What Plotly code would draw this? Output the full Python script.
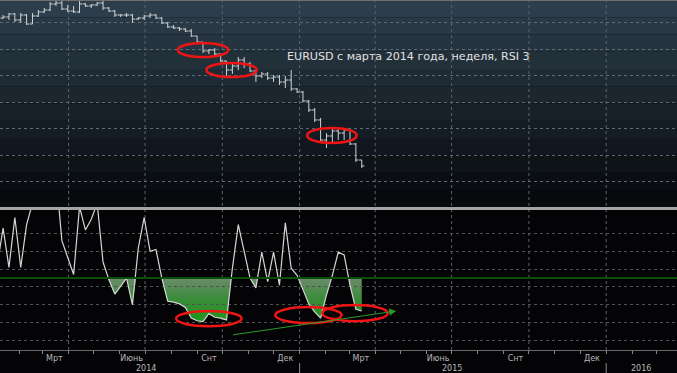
import plotly.graph_objects as go
import pandas as pd

# ---------------- data (weekly EURUSD bars + RSI 3) ----------------
weeks = pd.date_range("2014-01-06", periods=63, freq="7D")

open_ = [1.3566, 1.3585, 1.3604, 1.3661, 1.3548, 1.3642, 1.3472, 1.3623, 1.3699, 1.3736,
         1.3850, 1.3868, 1.3755, 1.3717, 1.3699, 1.3850, 1.3812, 1.3831, 1.3868, 1.3774,
         1.3717, 1.3642, 1.3642, 1.3642, 1.3566, 1.3585, 1.3623, 1.3642, 1.3585, 1.3491,
         1.3416, 1.3397, 1.3378, 1.3340, 1.3246, 1.3132, 1.2963, 1.2981, 1.2906, 1.2774,
         1.2604, 1.2680, 1.2793, 1.2717, 1.2585, 1.2491, 1.2529, 1.2453, 1.2472, 1.2378,
         1.2415, 1.2246, 1.2189, 1.2019, 1.1849, 1.1661, 1.1283, 1.1359, 1.1453, 1.1415,
         1.1472, 1.1208, 1.0906]
high = [1.3623, 1.3642, 1.3680, 1.3680, 1.3680, 1.3661, 1.3680, 1.3736, 1.3774, 1.3887,
        1.3963, 1.3906, 1.3831, 1.3812, 1.3925, 1.3868, 1.3850, 1.3887, 1.3982, 1.3793,
        1.3736, 1.3661, 1.3680, 1.3661, 1.3604, 1.3642, 1.3680, 1.3661, 1.3604, 1.3510,
        1.3453, 1.3416, 1.3397, 1.3378, 1.3246, 1.3132, 1.3000, 1.3019, 1.2906, 1.2774,
        1.2736, 1.2849, 1.2849, 1.2755, 1.2604, 1.2566, 1.2566, 1.2510, 1.2510, 1.2491,
        1.2604, 1.2264, 1.2208, 1.2038, 1.1887, 1.1698, 1.1415, 1.1510, 1.1491, 1.1510,
        1.1491, 1.1227, 1.0906]
low = [1.3548, 1.3566, 1.3548, 1.3510, 1.3491, 1.3453, 1.3472, 1.3604, 1.3680, 1.3717,
       1.3812, 1.3736, 1.3699, 1.3680, 1.3680, 1.3793, 1.3774, 1.3812, 1.3736, 1.3699,
       1.3604, 1.3604, 1.3604, 1.3491, 1.3548, 1.3548, 1.3585, 1.3566, 1.3472, 1.3397,
       1.3378, 1.3340, 1.3321, 1.3227, 1.3114, 1.2925, 1.2906, 1.2887, 1.2755, 1.2491,
       1.2529, 1.2604, 1.2642, 1.2566, 1.2378, 1.2453, 1.2415, 1.2378, 1.2321, 1.2264,
       1.2208, 1.2170, 1.2000, 1.1812, 1.1623, 1.1227, 1.1132, 1.1245, 1.1283, 1.1283,
       1.1189, 1.0868, 1.0755]
close = [1.3585, 1.3604, 1.3661, 1.3548, 1.3642, 1.3472, 1.3623, 1.3699, 1.3736, 1.3850,
         1.3868, 1.3755, 1.3717, 1.3699, 1.3850, 1.3812, 1.3831, 1.3868, 1.3774, 1.3717,
         1.3642, 1.3642, 1.3642, 1.3566, 1.3585, 1.3623, 1.3642, 1.3585, 1.3491, 1.3416,
         1.3397, 1.3378, 1.3340, 1.3246, 1.3132, 1.2963, 1.2981, 1.2906, 1.2774, 1.2604,
         1.2680, 1.2793, 1.2717, 1.2585, 1.2491, 1.2529, 1.2453, 1.2472, 1.2378, 1.2415,
         1.2246, 1.2189, 1.2019, 1.1849, 1.1661, 1.1283, 1.1359, 1.1453, 1.1415, 1.1472,
         1.1208, 1.0906, 1.0793]
rsi3 = [37, 58, 36, 64, 36, 60, 72, 80, 85, 82,
        88, 51, 41, 32, 70, 57, 63, 72, 39, 29,
        21, 25.5, 30, 15, 47, 64, 45, 46, 30, 17,
        16.5, 15.5, 13.5, 7.5, 6, 5.5, 10, 8, 7.5, 6.5,
        35.5, 60, 44, 30, 24.5, 44.5, 28, 44.5, 26, 61,
        35.5, 31.5, 23.5, 15.5, 11, 7.5, 20.5, 31.5, 44.5, 43,
        26, 12.5, 11.5]
rsi_level = 30

price_grid = [1.05, 1.10, 1.15, 1.20, 1.25, 1.30, 1.35]
rsi_grid = [-5, 5, 15, 25, 35, 45, 55]
month_ticks = ["2014-03-15", "2014-06-15", "2014-09-15", "2014-12-15",
               "2015-03-15", "2015-06-15", "2015-09-15", "2015-12-15", "2016-03-15"]
month_labels = ["Мрт", "Июнь", "Снт", "Дек", "Мрт", "Июнь", "Снт", "Дек", "Мрт"]
year_labels = ["2014", "2015", "2016"]
year_label_pos = ["2014-07-02", "2015-07-02", "2016-02-12"]
year_breaks = ["2015-01-01", "2016-01-01"]
quarter_grid = ["2014-04-01", "2014-07-01", "2014-10-01", "2015-01-01", "2015-04-01",
                "2015-07-01", "2015-10-01", "2016-01-01"]
title_text = "EURUSD с марта 2014 года, неделя, RSI 3"

# ---------------- layout geometry ----------------
W, H = 677, 373
MB = 23
PH = H - MB                      # plot-area height (px)
X_RANGE = ["2014-01-09 08:00", "2016-03-25 07:00"]
PRICE_RANGE = [1.0019, 1.3925]
RSI_RANGE = [-10.4, 68.2]
top_dom = [(PH - 207) / PH, 1.0]
bot_dom = [0.0, 140 / PH]
fill_top = bot_dom[1] * (rsi_level - RSI_RANGE[0]) / (RSI_RANGE[1] - RSI_RANGE[0])

fig = go.Figure()

fig.add_trace(go.Ohlc(
    x=weeks, open=open_, high=high, low=low, close=close,
    xaxis="x", yaxis="y", tickwidth=0.45,
    increasing=dict(line=dict(color="#cfd2d4", width=1)),
    decreasing=dict(line=dict(color="#cfd2d4", width=1)),
    hoverinfo="skip", showlegend=False))

# fill area (clipped to the part of the RSI panel below the level)
fig.add_trace(go.Scatter(
    x=weeks, y=[rsi_level] * len(weeks), xaxis="x", yaxis="y2", mode="lines",
    line=dict(width=0, color="rgba(0,0,0,0)"), hoverinfo="skip", showlegend=False))
fig.add_trace(go.Scatter(
    x=weeks, y=rsi3, xaxis="x", yaxis="y2", mode="lines", fill="tonexty",
    line=dict(width=0, color="rgba(0,0,0,0)"),
    fillgradient=dict(type="vertical", start=5, stop=rsi_level,
                      colorscale=[[0, "rgb(28,150,28)"], [0.55, "rgb(60,140,60)"],
                                  [1, "rgb(108,140,108)"]]),
    hoverinfo="skip", showlegend=False))

fig.add_trace(go.Scatter(
    x=weeks, y=rsi3, xaxis="x", yaxis="y3", mode="lines",
    line=dict(color="#d6d6d6", width=1.2), hoverinfo="skip", showlegend=False))

shapes = []
# gradient-like background bands for the price panel
NB = 12
c_top, c_bot = (44, 62, 75), (7, 9, 13)
for k in range(NB):
    t = k / (NB - 1)
    c = tuple(int(round(c_top[j] + (c_bot[j] - c_top[j]) * t)) for j in range(3))
    y1 = top_dom[1] - (top_dom[1] - top_dom[0]) * k / NB
    y0 = top_dom[1] - (top_dom[1] - top_dom[0]) * (k + 1) / NB
    shapes.append(dict(type="rect", xref="paper", yref="paper", x0=0, x1=1, y0=y0, y1=y1,
                       fillcolor="rgb(%d,%d,%d)" % c, line=dict(width=0), layer="below"))
for q in quarter_grid:
    shapes.append(dict(type="line", xref="x", yref="paper", x0=q, x1=q, y0=0, y1=1,
                       line=dict(color="#5a646c", width=1, dash="dot"), layer="below"))
# separator between panels and top border
sep_y = (PH - 208.5) / PH
shapes.append(dict(type="line", xref="paper", yref="paper", x0=0, x1=1, y0=sep_y, y1=sep_y,
                   line=dict(color="#a4a4a4", width=3), layer="above"))
shapes.append(dict(type="line", xref="paper", yref="paper", x0=0, x1=1, y0=1, y1=1,
                   line=dict(color="#707070", width=2), layer="above"))
# RSI level line
shapes.append(dict(type="line", xref="paper", yref="y3", x0=0, x1=1, y0=rsi_level, y1=rsi_level,
                   line=dict(color="#0a4f0a", width=2), layer="above"))
# year separators in the label area
for yb in year_breaks:
    shapes.append(dict(type="line", xref="x", yref="paper", x0=yb, x1=yb,
                       y0=-13 / PH, y1=-23 / PH, line=dict(color="#8a8a8a", width=1)))
# red ellipses (hand-drawn annotations)
red = dict(color="#f01414", width=2.5)
ellipses = [
    ("y", "2014-08-09", "2014-10-08", 1.2849, 1.3114),
    ("y", "2014-09-12", "2014-11-11", 1.2472, 1.2736),
    ("y", "2015-01-10", "2015-03-10", 1.1227, 1.1510),
    ("y3", "2014-08-07", "2014-10-24", 3.0, 11.5),
    ("y3", "2014-12-03", "2015-02-20", 4.7, 13.7),
    ("y3", "2015-01-28", "2015-04-16", 5.8, 14.8),
]
for yr, xa, xb, ya, yb in ellipses:
    shapes.append(dict(type="circle", xref="x", yref=yr, x0=xa, x1=xb, y0=ya, y1=yb,
                       line=red, layer="above"))

annotations = [
    dict(text=title_text, xref="paper", yref="paper", x=285 / W, y=(PH - 56) / PH,
         xanchor="left", yanchor="middle", showarrow=False,
         font=dict(family="DejaVu Sans", size=11.1, color="#e2e2e2")),
    dict(text="", xref="x", yref="y3", x="2015-04-26", y=11.5,
         axref="x", ayref="y3", ax="2014-10-12", ay=-2.0,
         showarrow=True, arrowhead=2, arrowsize=1.4, arrowwidth=1, arrowcolor="#2a9a2a"),
]
for lab, pos in zip(year_labels, year_label_pos):
    annotations.append(dict(text=lab, xref="x", yref="paper", x=pos, y=-18 / PH,
                            xanchor="center", yanchor="middle", showarrow=False,
                            font=dict(family="DejaVu Sans", size=8, color="#b8b8b8")))

fig.update_layout(
    width=W, height=H,
    margin=dict(l=0, r=0, t=0, b=MB, pad=0),
    paper_bgcolor="#040406", plot_bgcolor="rgba(0,0,0,0)",
    showlegend=False,
    shapes=shapes, annotations=annotations,
    xaxis=dict(domain=[0, 1], range=X_RANGE, anchor="y3", type="date",
               showgrid=False, zeroline=False,
               tickvals=month_ticks, ticktext=month_labels, ticks="",
               tickfont=dict(family="DejaVu Sans", size=8, color="#b8b8b8"),
               showline=True, linecolor="#6a6a6a", linewidth=1,
               minor=dict(dtick="M1", tick0="2014-01-01", ticks="outside", ticklen=3,
                          tickcolor="#8a8a8a", showgrid=False),
               rangeslider=dict(visible=False), fixedrange=True),
    yaxis=dict(domain=top_dom, range=PRICE_RANGE, anchor="x", tickvals=price_grid,
               showticklabels=False, showgrid=True, gridcolor="#5c6a76", griddash="dot",
               gridwidth=1, zeroline=False, showline=False, ticks="", fixedrange=True),
    yaxis2=dict(domain=[0, fill_top], range=[RSI_RANGE[0], rsi_level], anchor="x",
                visible=False, fixedrange=True),
    yaxis3=dict(domain=bot_dom, range=RSI_RANGE, anchor="x", tickvals=rsi_grid,
                showticklabels=False, showgrid=True, gridcolor="#505050", griddash="dot",
                gridwidth=1, zeroline=False, showline=False, ticks="", fixedrange=True),
)

fig.write_html("out.html", config=dict(displayModeBar=False),
               post_script="document.body.style.margin='0';document.body.style.background='#040406';")
